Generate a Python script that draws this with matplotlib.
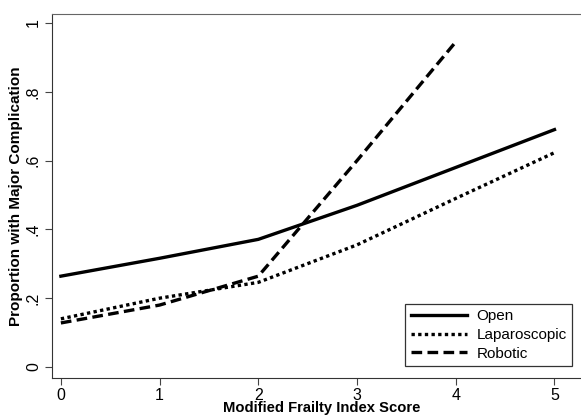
import matplotlib.pyplot as plt

plt.rcParams['font.family'] = ['Liberation Sans', 'DejaVu Sans']

mfi_score = [0, 1, 2, 3, 4, 5]
open_prop = [0.264, 0.316, 0.371, 0.470, 0.580, 0.690]
lap_prop = [0.140, 0.200, 0.246, 0.355, 0.490, 0.623]
robotic_score = [0, 1, 2, 3, 4]
robotic_prop = [0.128, 0.180, 0.264, 0.600, 0.945]

y_ticks = [0, 0.2, 0.4, 0.6, 0.8, 1.0]
y_ticklabels = ['0', '.2', '.4', '.6', '.8', '1']

fig = plt.figure(figsize=(5.81, 4.16), dpi=100)
ax = fig.add_axes([52 / 581, 38 / 416, 540 / 581, 364 / 416])

ax.plot(mfi_score, open_prop, color='black', lw=2.4, ls='-', label='Open')
ax.plot(mfi_score, lap_prop, color='black', lw=2.4, ls=(0, (1, 1)), label='Laparoscopic')
ax.plot(robotic_score, robotic_prop, color='black', lw=2.4, ls=(0, (3.2, 1.6)), label='Robotic')

ax.set_xlim(-0.09, 5.38)
ax.set_ylim(-0.032, 1.026)
ax.set_xticks(mfi_score)
ax.set_yticks(y_ticks)
ax.set_yticklabels(y_ticklabels, rotation=90, va='center')
ax.tick_params(labelsize=11.5, length=5, width=0.8, color='#444444', pad=3)
ax.tick_params(axis='x', pad=2)

ax.spines['right'].set_visible(False)
ax.spines['top'].set_color('#666666')
ax.spines['left'].set_color('#333333')
ax.spines['bottom'].set_color('#333333')

ax.set_xlabel('Modified Frailty Index Score', fontsize=10.6, fontweight='bold', labelpad=-1)
ax.set_ylabel('Proportion with Major Complication', fontsize=11, fontweight='bold', labelpad=2)

leg = ax.legend(loc='lower right', bbox_to_anchor=(0.977, 0.012), fontsize=11,
                fancybox=False, framealpha=1, edgecolor='#333333',
                handlelength=3.7, handletextpad=0.6, borderpad=0.35, labelspacing=0.3)
leg.get_frame().set_linewidth(0.9)

fig.savefig('out.png', dpi=100)
